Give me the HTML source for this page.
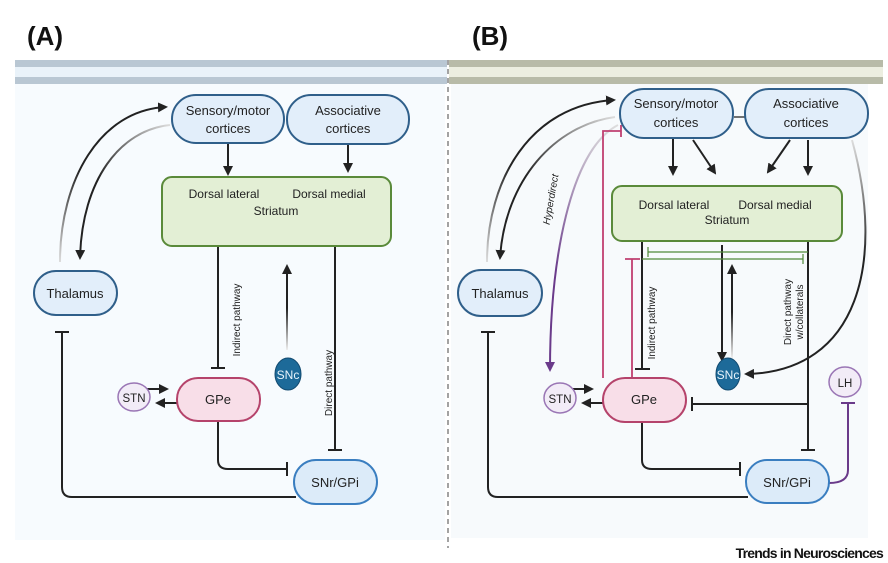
<!DOCTYPE html>
<html><head><meta charset="utf-8"><style>
html,body{margin:0;padding:0;background:#fff;}
svg{display:block;font-family:"Liberation Sans",sans-serif;}
</style></head><body>
<svg width="888" height="563" viewBox="0 0 888 563" xmlns="http://www.w3.org/2000/svg">
<defs>
<marker id="ah" viewBox="0 0 10 10" refX="8" refY="5" markerWidth="5" markerHeight="5" orient="auto"><path d="M0,0L10,5L0,10z" fill="#222"/></marker>
<marker id="ahp" viewBox="0 0 10 10" refX="8" refY="5" markerWidth="5" markerHeight="5" orient="auto"><path d="M0,0L10,5L0,10z" fill="#6a3a8a"/></marker>
<linearGradient id="g1" x1="0" y1="1" x2="0" y2="0"><stop offset="0" stop-color="#ddd"/><stop offset="0.6" stop-color="#222"/></linearGradient>
<linearGradient id="g2" x1="1" y1="0" x2="0" y2="1"><stop offset="0" stop-color="#ddd"/><stop offset="0.6" stop-color="#222"/></linearGradient>
<linearGradient id="gp" x1="0" y1="0" x2="0" y2="1"><stop offset="0" stop-color="#ddd"/><stop offset="0.6" stop-color="#6a3a8a"/></linearGradient>
<linearGradient id="gs" x1="0" y1="0" x2="0" y2="1"><stop offset="0" stop-color="#ddd"/><stop offset="0.5" stop-color="#222"/></linearGradient>
<linearGradient id="guA" gradientUnits="userSpaceOnUse" x1="0" y1="350" x2="0" y2="266"><stop offset="0" stop-color="#eee"/><stop offset="0.5" stop-color="#222"/></linearGradient>
<linearGradient id="guB" gradientUnits="userSpaceOnUse" x1="0" y1="358" x2="0" y2="266"><stop offset="0" stop-color="#eee"/><stop offset="0.5" stop-color="#222"/></linearGradient>
</defs>
<text x="27" y="45" font-size="26" font-weight="bold" fill="#111">(A)</text>
<text x="472" y="45" font-size="26" font-weight="bold" fill="#111">(B)</text>
<rect x="15" y="84" width="430" height="456" fill="#f7fbfe"/>
<rect x="451" y="84" width="417" height="454" fill="#f7fafc"/>
<rect x="15" y="60" width="432" height="7" fill="#b9c7d3"/>
<rect x="15" y="67" width="432" height="10" fill="#e9f2f9"/>
<rect x="15" y="77" width="432" height="7" fill="#b9c7d3"/>
<rect x="449" y="60" width="434" height="7" fill="#b8bba8"/>
<rect x="449" y="67" width="434" height="10" fill="#eceee0"/>
<rect x="449" y="77" width="434" height="7" fill="#b8bba8"/>
<line x1="448" y1="60" x2="448" y2="548" stroke="#666" stroke-width="1.2" stroke-dasharray="5,4"/>

<g stroke-width="2" fill="none">
<path d="M60,262 C60,180 100,110 166,107" stroke="url(#g1)" marker-end="url(#ah)"/>
<path d="M170,125 C120,130 82,180 80,258" stroke="url(#g2)" marker-end="url(#ah)"/>
<path d="M228,144 V174" stroke="#222" marker-end="url(#ah)"/>
<path d="M348,144 V171" stroke="#222" marker-end="url(#ah)"/>
<path d="M218,247 V368 M211,368 H225" stroke="#222"/>
<path d="M335,247 V450 M328,450 H342" stroke="#222"/>
<path d="M287,350 V266" stroke="url(#guA)" marker-end="url(#ah)"/>
<path d="M147,389 H167" stroke="#222" marker-end="url(#ah)"/>
<path d="M177,403 H157" stroke="#222" marker-end="url(#ah)"/>
<path d="M218,421 V460 Q218,469 228,469 H287 M287,462 V476" stroke="#222"/>
<path d="M296,497 H72 Q62,497 62,487 V332 M55,332 H69" stroke="#222"/>
<path d="M487,262 C487,180 530,105 614,100" stroke="url(#g1)" marker-end="url(#ah)"/>
<path d="M615,117 C555,125 505,180 500,258" stroke="url(#g2)" marker-end="url(#ah)"/>
<path d="M618,125 C570,150 550,260 550,370" stroke="url(#gp)" marker-end="url(#ahp)"/>
<path d="M734,117 H745" stroke="#444" stroke-width="1.5"/>
<path d="M673,139 V174" stroke="#222" marker-end="url(#ah)"/>
<path d="M693,140 L715,173" stroke="#222" marker-end="url(#ah)"/>
<path d="M790,140 L768,172" stroke="#222" marker-end="url(#ah)"/>
<path d="M808,140 V174" stroke="#222" marker-end="url(#ah)"/>
<path d="M642,241 V369 M635,369 H650" stroke="#222"/>
<path d="M808,241 V450 M801,450 H815" stroke="#222"/>
<path d="M808,404 H692 M692,397 V411" stroke="#222"/>
<path d="M722,245 V360" stroke="#222" marker-end="url(#ah)"/>
<path d="M732,358 V266" stroke="url(#guB)" marker-end="url(#ah)"/>
<path d="M852,140 C885,260 860,372 746,374" stroke="url(#gs)" marker-end="url(#ah)"/>
<path d="M603,378 V131 H621 M621,125 V137" stroke="#c04070" stroke-width="1.8"/>
<path d="M632,378 V259 M625,259 H640" stroke="#c04070" stroke-width="1.8"/>
<path d="M573,389 H592" stroke="#222" marker-end="url(#ah)"/>
<path d="M603,403 H583" stroke="#222" marker-end="url(#ah)"/>
<path d="M642,422 V460 Q642,469 652,469 H740 M740,462 V476" stroke="#222"/>
<path d="M748,497 H498 Q488,497 488,487 V332 M481,332 H495" stroke="#222"/>
<path d="M829,483 Q848,483 848,470 V403 M841,403 H855" stroke="#6a3a8a"/>
</g>
<g stroke="#4f8a3a" stroke-width="1.2" fill="none">
<path d="M648,252 H808 M648,247 V257"/>
<path d="M642,259 H803 M803,254 V264"/>
</g>

<g stroke-width="2">
<rect x="172" y="95" width="112" height="48" rx="24" fill="#e2eefa" stroke="#2f5f8a"/>
<rect x="287" y="95" width="122" height="49" rx="24" fill="#e2eefa" stroke="#2f5f8a"/>
<rect x="162" y="177" width="229" height="69" rx="10" fill="#e3efd5" stroke="#5a8a3a"/>
<rect x="34" y="271" width="83" height="44" rx="22" fill="#e2eefa" stroke="#2f5f8a"/>
<rect x="177" y="378" width="83" height="43" rx="21" fill="#f8dee8" stroke="#b5436b"/>
<ellipse cx="134" cy="397" rx="16" ry="14" fill="#f2ecf7" stroke="#9a76b5" stroke-width="1.5"/>
<ellipse cx="288" cy="374" rx="13" ry="16" fill="#1d6a99" stroke="#124a70" stroke-width="1"/>
<rect x="294" y="460" width="83" height="44" rx="22" fill="#dcebf9" stroke="#3a7ec0"/>
<rect x="620" y="89" width="113" height="49" rx="24" fill="#e2eefa" stroke="#2f5f8a"/>
<rect x="745" y="89" width="123" height="49" rx="24" fill="#e2eefa" stroke="#2f5f8a"/>
<rect x="612" y="186" width="230" height="55" rx="10" fill="#e3efd5" stroke="#5a8a3a"/>
<rect x="458" y="270" width="84" height="46" rx="23" fill="#e2eefa" stroke="#2f5f8a"/>
<rect x="603" y="378" width="83" height="44" rx="22" fill="#f8dee8" stroke="#b5436b"/>
<ellipse cx="560" cy="398" rx="16" ry="15" fill="#f2ecf7" stroke="#9a76b5" stroke-width="1.5"/>
<ellipse cx="728" cy="374" rx="12" ry="16" fill="#1d6a99" stroke="#124a70" stroke-width="1"/>
<ellipse cx="845" cy="382" rx="16" ry="15" fill="#f2ecf7" stroke="#9a76b5" stroke-width="1.5"/>
<rect x="746" y="460" width="83" height="43" rx="21" fill="#dcebf9" stroke="#3a7ec0"/>
</g>

<g font-size="13" fill="#222" text-anchor="middle">
<text x="228" y="115">Sensory/motor</text><text x="228" y="133">cortices</text>
<text x="348" y="115">Associative</text><text x="348" y="133">cortices</text>
<text x="224" y="198" font-size="12">Dorsal lateral</text><text x="329" y="198" font-size="12">Dorsal medial</text>
<text x="276" y="215" font-size="12">Striatum</text>
<text x="75" y="298">Thalamus</text>
<text x="218" y="404">GPe</text>
<text x="134" y="402" font-size="11.5">STN</text>
<text x="288" y="379" font-size="12" fill="#e8f4fc">SNc</text>
<text x="335" y="487">SNr/GPi</text>
<text x="676" y="108">Sensory/motor</text><text x="676" y="127">cortices</text>
<text x="806" y="108">Associative</text><text x="806" y="127">cortices</text>
<text x="674" y="209" font-size="12">Dorsal lateral</text><text x="775" y="209" font-size="12">Dorsal medial</text>
<text x="727" y="224" font-size="12">Striatum</text>
<text x="500" y="298">Thalamus</text>
<text x="644" y="404">GPe</text>
<text x="560" y="403" font-size="11.5">STN</text>
<text x="728" y="379" font-size="12" fill="#e8f4fc">SNc</text>
<text x="845" y="387" font-size="11.5">LH</text>
<text x="787" y="487">SNr/GPi</text>
</g>
<g font-size="10" fill="#222" text-anchor="middle">
<text transform="translate(240,320) rotate(-90)">Indirect pathway</text>
<text transform="translate(332,383) rotate(-90)">Direct pathway</text>
<text transform="translate(655,323) rotate(-90)">Indirect pathway</text>
<text transform="translate(791,312) rotate(-90)">Direct pathway</text>
<text transform="translate(803,312) rotate(-90)">w/collaterals</text>
<text transform="translate(554,200) rotate(-80)" font-style="italic">Hyperdirect</text>
</g>
<text x="883" y="558" font-size="14" font-weight="bold" text-anchor="end" letter-spacing="-0.8" fill="#111">Trends in Neurosciences</text>
</svg>
</body></html>
